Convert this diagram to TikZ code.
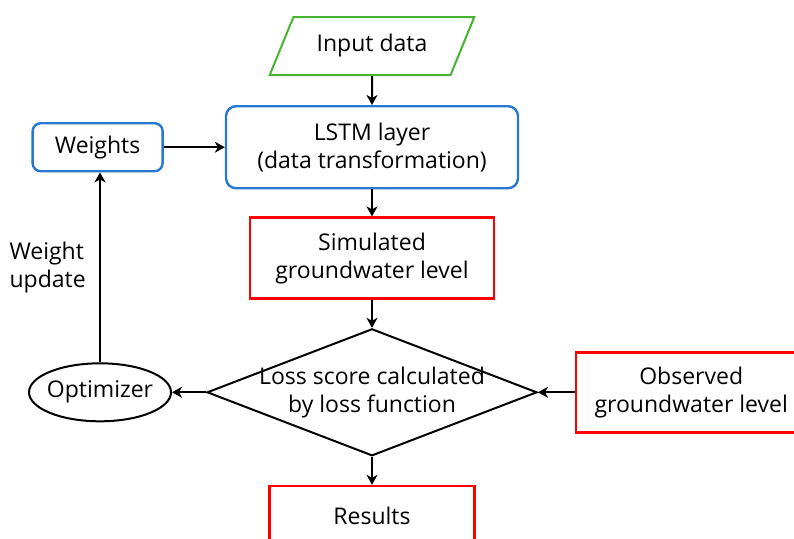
\documentclass[tikz,border=0pt]{standalone}
\usepackage{fontspec}
\setmainfont{Open Sans}
\usetikzlibrary{arrows.meta,shapes,positioning}

\definecolor{boxgreen}{RGB}{70,180,50}
\definecolor{boxblue}{RGB}{40,120,210}
\definecolor{boxred}{RGB}{255,0,0}

\begin{document}
\begin{tikzpicture}[
    x=1pt,y=-1pt,
    font=\fontsize{23}{28}\selectfont,
    box/.style={rectangle,draw,line width=2.4pt,align=center,inner sep=0pt},
    roundbox/.style={box,draw=boxblue,rounded corners=10pt},
    redbox/.style={box,draw=boxred},
    arrow/.style={line width=2pt,->,>={Stealth[length=10pt,width=11pt,inset=3pt]}}
]
    \useasboundingbox (0,0) rectangle (794,538);
    \clip (0,0) rectangle (794,538);

    % main column
    \node[trapezium,draw=boxgreen,line width=2pt,trapezium left angle=54,trapezium right angle=126,
          trapezium stretches=true,minimum width=205pt,minimum height=58pt,inner sep=0pt] (input) at (372,46) {Input data};
    \node[roundbox,minimum width=292pt,minimum height=82pt,below=29pt of input] (lstm) {LSTM layer\\(data transformation)};
    \node[redbox,minimum width=244pt,minimum height=81pt,below=27pt of lstm] (sim) {Simulated\\groundwater level};
    % the text runs over the diamond's edges, so it sits in a label
    \node[diamond,draw,line width=2pt,aspect=2.6,minimum width=330pt,minimum height=127pt,inner sep=0pt,
          below=28pt of sim,label={[align=center]center:Loss score calculated\\by loss function}] (loss) {};
    \node[redbox,minimum width=205pt,minimum height=60pt,below=28pt of loss] (results) {Results};

    % side nodes
    \node[roundbox,rounded corners=8pt,minimum width=130pt,minimum height=48pt,left=61pt of lstm] (weights) {Weights};
    \node[ellipse,draw,line width=2pt,minimum width=142pt,minimum height=58pt,inner xsep=-4pt,inner ysep=0pt,
          left=34pt of loss] (opt) {Optimizer};
    \node[redbox,minimum width=230pt,minimum height=80pt,right=37pt of loss] (obs) {Observed\\groundwater level};

    \draw[arrow] (input) -- (lstm);
    \draw[arrow] (lstm) -- (sim);
    \draw[arrow] (sim) -- (loss);
    \draw[arrow] (loss) -- (results);
    \draw[arrow] (weights) -- (lstm);
    \draw[arrow] (loss) -- (opt);
    \draw[arrow] (obs) -- (loss);
    \draw[arrow] (opt.north) -- node[left=10pt,align=left] {Weight\\update} (opt.north |- weights.south);
\end{tikzpicture}
\end{document}
